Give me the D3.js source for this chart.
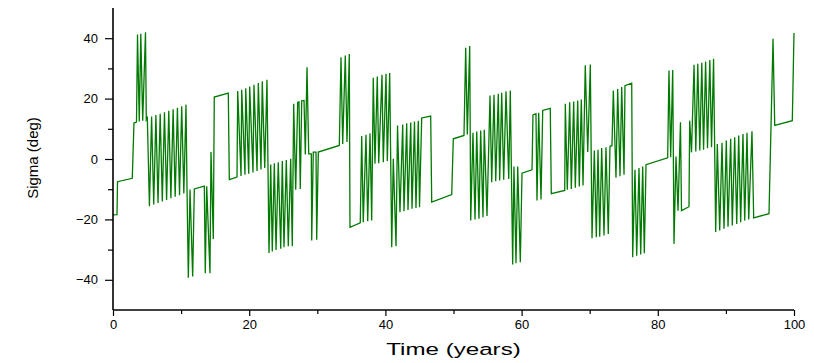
<!DOCTYPE html>
<html><head><meta charset="utf-8">
<script src="https://cdn.jsdelivr.net/npm/d3@7"></script>
<style>
html,body{margin:0;padding:0;background:#fff;}
svg{display:block;font-family:"Liberation Sans",Arial,sans-serif;}
</style></head>
<body>
<svg id="chart" width="814" height="363"></svg>
<script>
// ---- data ----
const timeYears = [
0.00,0.59,0.66,2.83,3.08,3.45,3.60,3.86,4.08,4.36,4.77,4.89,
5.04,5.35,5.67,5.98,6.30,6.61,6.93,7.24,7.56,7.87,8.19,8.50,8.83,9.13,9.46,9.77,10.09,10.40,10.72,10.87,
11.06,11.31,11.70,11.94,13.41,13.55,13.76,14.24,14.39,14.73,14.87,16.93,17.08,18.21,
18.31,18.80,18.90,19.38,19.49,19.93,20.07,20.56,20.70,21.15,21.34,21.73,21.92,22.28,22.61,
22.91,23.16,23.39,23.69,23.94,24.27,24.63,24.86,25.11,25.45,25.74,26.09,26.33,
26.53,26.83,27.12,27.31,27.50,27.71,28.05,28.24,28.49,28.74,29.12,29.18,29.41,29.81,29.91,30.15,
33.23,33.48,33.73,34.11,34.36,34.70,34.80,36.31,
36.52,36.75,37.15,37.40,37.74,37.99,
38.22,38.47,38.81,39.02,39.50,39.69,40.09,40.28,40.63,40.93,41.16,41.56,
41.78,42.14,42.54,42.73,43.13,43.32,43.72,43.91,44.27,44.49,44.83,45.01,45.33,46.65,46.80,49.74,49.97,51.54,
51.79,52.03,52.38,52.53,
52.86,53.16,53.41,53.74,53.99,54.33,54.52,54.92,
55.36,55.61,55.95,56.20,56.58,56.78,57.08,57.37,57.71,58.11,58.34,
58.69,58.88,59.18,59.43,59.81,60.06,61.53,61.67,62.11,62.26,62.51,62.85,63.10,64.21,64.36,66.33,
66.42,66.71,67.06,67.30,67.65,67.89,68.24,68.47,68.77,69.02,
69.35,69.71,70.09,70.34,
70.68,70.97,71.22,71.47,71.76,72.10,72.39,72.73,72.98,73.27,
73.47,73.86,74.11,74.45,74.70,75.04,75.18,76.17,76.31,
76.65,76.90,77.24,77.49,77.78,78.02,78.27,81.45,
81.64,81.89,82.19,82.38,82.67,82.97,83.33,83.48,84.58,84.68,84.95,
85.32,85.58,85.87,86.17,86.46,86.72,87.02,87.30,87.64,87.89,88.19,
88.50,88.74,89.09,89.43,89.72,90.06,90.31,90.70,90.94,91.29,91.59,91.88,92.17,92.51,92.76,93.10,93.35,93.83,
94.08,96.33,96.92,97.17,99.75,100.00
];
const sigmaDeg = [
-18.5,-18.4,-7.5,-6.4,11.9,12.2,41.2,12.4,41.5,12.7,42.0,13.0,
13.6,-15.6,14.1,-15.1,14.6,-14.6,15.0,-14.1,15.5,-13.6,16.0,-13.0,16.5,-12.5,17.0,-12.0,17.5,-11.4,18.0,-10.2,
-39.3,-10.1,-38.9,-9.9,-9.0,-37.8,-9.0,-37.8,2.3,-26.5,20.5,21.8,-6.8,-6.0,
22.5,-5.6,22.9,-5.2,23.4,-4.9,24.0,-4.5,24.6,-4.0,25.2,-3.5,25.7,-3.0,26.2,
-31.1,-1.8,-30.6,-1.4,-30.1,-1.1,-29.7,-0.7,-29.2,-0.3,-28.9,0.1,-28.9,
18.3,-10.2,18.8,18.9,-9.9,19.3,19.4,1.5,30.4,1.7,1.7,-27.0,2.3,2.3,-26.7,2.3,
4.5,33.7,5.0,34.3,5.6,34.8,-22.6,-21.1,
7.6,-20.9,8.0,-20.6,8.5,-20.4,
26.9,-1.6,27.3,-1.4,27.9,-1.1,28.2,-0.7,28.5,-29.2,0.1,-28.9,
11.1,-17.6,11.4,-17.3,11.8,-16.9,12.1,-16.5,12.4,-16.2,12.7,-16.0,13.6,14.2,-14.3,-11.8,6.7,7.8,
36.8,8.1,37.4,-20.4,
8.7,-20.0,9.1,-19.8,9.4,-19.3,9.7,-18.9,
21.0,-7.7,21.3,-7.4,21.6,-7.1,21.9,-6.9,22.4,-6.6,22.7,
-34.9,-2.5,-34.5,-2.5,-34.2,-4.7,-3.6,14.6,15.0,-13.7,15.3,-13.4,16.1,16.8,-11.5,-10.4,
18.3,-10.2,18.8,-9.9,19.0,-9.5,19.4,-9.1,19.7,-8.8,
31.0,2.3,31.3,-26.2,
2.8,-25.9,3.1,-25.7,3.6,-25.3,3.9,-24.8,4.2,4.4,
22.7,-6.2,23.2,-5.7,23.8,-5.2,24.3,25.1,-32.5,
-3.6,-32.0,-3.0,-31.6,-2.5,-31.2,-1.9,0.4,
29.3,0.6,29.5,-28.1,0.8,-17.1,12.2,-17.1,-15.8,12.7,2.2,
31.2,2.5,31.5,2.8,31.9,3.1,32.3,3.6,32.8,3.9,33.2,
-24.2,5.0,-23.7,5.4,-23.1,6.1,-22.4,6.7,-22.0,7.2,-21.5,7.8,-20.9,8.3,-20.4,8.7,-20.0,9.2,
-19.5,-18.1,39.8,11.1,12.7,41.7
];
const xMajorTicks = [0,20,40,60,80,100];
const xMinorTicks = [10,30,50,70,90];
const yMajorTicks = [-40,-20,0,20,40];
const yMinorTicks = [-30,-10,10,30];
const xTitle = "Time (years)";
const yTitle = "Sigma (deg)";

// ---- drawing ----
const svg = d3.select("#chart");
const x = d3.scaleLinear().domain([0,100]).range([113,794]);
const y = d3.scaleLinear().domain([-50,50]).range([310,8]);

const pts = timeYears.map((t,i)=>[t, sigmaDeg[i]]);
const line = d3.line().x(d=>x(d[0])).y(d=>y(d[1]));
svg.append("path").datum(pts)
  .attr("d", line)
  .attr("fill","none")
  .attr("stroke","#007a00")
  .attr("stroke-width",1.3)
  .attr("stroke-linejoin","miter");

// y axis
const yAxisG = svg.append("g").attr("transform","translate(113,0)");
yAxisG.call(d3.axisLeft(y).tickValues(yMajorTicks).tickSize(8).tickPadding(7).tickFormat(d3.format("d")));
yAxisG.append("g").call(d3.axisLeft(y).tickValues(yMinorTicks).tickSize(5).tickFormat(""));
yAxisG.selectAll(".domain").remove();
yAxisG.append("line").attr("x1",0).attr("x2",0).attr("y1",y(50)).attr("y2",y(-50)).attr("stroke","#000").attr("stroke-width",1.6);

// x axis
const xAxisG = svg.append("g").attr("transform","translate(0,310)");
xAxisG.call(d3.axisBottom(x).tickValues(xMajorTicks).tickSize(6).tickPadding(4).tickFormat(d3.format("d")));
xAxisG.append("g").call(d3.axisBottom(x).tickValues(xMinorTicks).tickSize(4).tickFormat(""));
xAxisG.selectAll(".domain").remove();
xAxisG.append("line").attr("x1",x(0)).attr("x2",x(100)).attr("y1",0).attr("y2",0).attr("stroke","#000").attr("stroke-width",1.6);

svg.selectAll(".tick line").attr("stroke","#000").attr("stroke-width",1.2);
svg.selectAll(".tick text").attr("font-size",13).attr("fill","#000").attr("font-family","Liberation Sans, Arial, sans-serif");

svg.append("text")
  .attr("transform",`translate(${(x(0)+x(100))/2},355) scale(1.42,1)`)
  .attr("text-anchor","middle").attr("font-size",17)
  .text(xTitle);
svg.append("text").attr("transform","translate(38,158) rotate(-90)")
  .attr("text-anchor","middle").attr("font-size",15)
  .text(yTitle);
</script>
</body></html>
